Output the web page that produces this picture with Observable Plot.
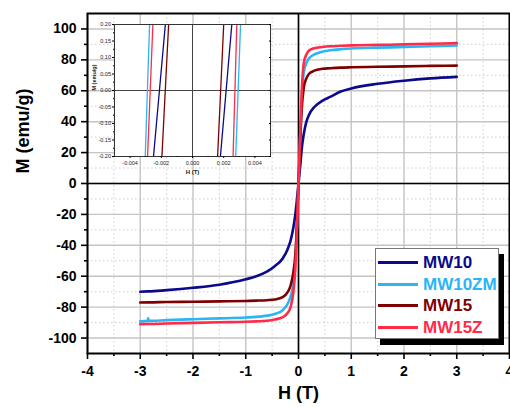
<!DOCTYPE html>
<html>
<head>
<meta charset="utf-8">
<script src="https://cdn.jsdelivr.net/npm/d3@7"></script>
<script src="https://cdn.jsdelivr.net/npm/@observablehq/plot@0.6"></script>
<style>
  html, body { margin: 0; padding: 0; background: white; }
  #wrap { position: relative; width: 510px; height: 407px; overflow: hidden; font-family: "Liberation Sans", Arial, sans-serif; }
  #inset { position: absolute; left: 88px; top: 18px; }
  #legend { position: absolute; left: 375px; top: 248px; width: 124px; height: 91px; background: white;
            border: 1px solid #777; box-shadow: 5px 6px 0 #000; padding-top: 3px; box-sizing: border-box; }
  .lrow { height: 21.6px; display: flex; align-items: center; }
  .lsw { width: 40px; height: 3px; margin-left: 2px; margin-right: 5px; }
  .ltx { font-weight: bold; font-size: 17px; line-height: 17px; }
</style>
</head>
<body>
<div id="wrap"></div>
<script>
// ---- data ----
const seriesNames = ["MW10", "MW10ZM", "MW15", "MW15Z"];
const seriesColors = ["#0a0a8a", "#2bb5f5", "#7f0000", "#ff2b48"];

const hField = [-3, -2.86, -2.85, -2.84, -2.5, -2, -1.5, -1, -0.8, -0.6, -0.45, -0.3, -0.2, -0.15, -0.1, -0.06, -0.04, -0.02,
                0, 0.02, 0.04, 0.06, 0.1, 0.15, 0.2, 0.3, 0.45, 0.6, 0.8, 1, 1.5, 2, 2.5, 3];
const mw10   = [-70, -69.8, -69.8, -69.8, -69, -67.5, -65.5, -62, -60, -57, -53.5, -48.5, -42, -37, -29, -20, -14, -7,
                0, 7, 14, 22, 32, 40, 44.5, 49.5, 53.5, 56, 59.5, 61.5, 64.5, 66.5, 68, 69];
const mw10zm = [-89.2, -88.9, -87.2, -88.9, -88.4, -87.8, -87.3, -86.7, -86.3, -85.5, -84.5, -82, -77.5, -73, -65, -50, -38, -20,
                0, 20, 38, 54, 72, 78, 81, 83.5, 85.3, 86.2, 86.9, 87.4, 87.9, 88.3, 88.8, 89.3];
const mw15   = [-77, -76.9, -76.9, -76.9, -76.7, -76.5, -76.3, -76, -75.8, -75.5, -75, -73.5, -70, -66, -58, -46, -34, -17,
                0, 17, 34, 48, 62, 68, 71, 73, 74.2, 74.6, 75, 75.2, 75.5, 75.8, 76.1, 76.3];
const mw15z  = [-91, -90.9, -90.9, -90.9, -90.6, -90.2, -89.8, -89.5, -89.2, -88.8, -88, -86.5, -83.5, -80, -71, -55, -40, -20,
                0, 20, 40, 58, 78, 83.5, 86, 87.5, 88.3, 88.8, 89.1, 89.4, 89.7, 90, 90.4, 90.8];

const xTicks = [-4, -3, -2, -1, 0, 1, 2, 3, 4];
const xMinor = [-3.5, -2.5, -1.5, -0.5, 0.5, 1.5, 2.5, 3.5];
const yTicks = [-100, -80, -60, -40, -20, 0, 20, 40, 60, 80, 100];
const yMinor = [-110, -90, -70, -50, -30, -10, 10, 30, 50, 70, 90, 110];

// inset (zoom on coercive field), H values where each branch crosses M = -0.2 and M = +0.2
const insetMLow = -0.2, insetMHigh = 0.2;
const leftBranchLow   = [-0.0025, -0.00303, -0.00196, -0.00288];
const leftBranchHigh  = [-0.00174, -0.00275, -0.00153, -0.00254];
const rightBranchLow  = [0.00179, 0.00277, 0.00161, 0.0026];
const rightBranchHigh = [0.00252, 0.00308, 0.0020, 0.00284];
const insetXTicks = [-0.004, -0.002, 0, 0.002, 0.004];
const insetXMinor = [-0.005, -0.003, -0.001, 0.001, 0.003, 0.005];
const insetYTicks = [-0.2, -0.15, -0.1, -0.05, 0, 0.05, 0.1, 0.15, 0.2];
const insetYMinor = [-0.175, -0.125, -0.075, -0.025, 0.025, 0.075, 0.125, 0.175];

// ---- build ----
const allM = [mw10, mw10zm, mw15, mw15z];
const rows = [];
seriesNames.forEach((s, k) => hField.forEach((h, i) => rows.push({series: s, h, m: allM[k][i]})));

const FONT = "Liberation Sans, Arial, sans-serif";
const main = Plot.plot({
  width: 510, height: 407,
  marginLeft: 87, marginRight: 1, marginTop: 13, marginBottom: 54,
  x: {domain: [-4, 4]},
  y: {domain: [-110, 110]},
  color: {domain: seriesNames, range: seriesColors},
  style: {fontFamily: FONT, background: "white", overflow: "visible"},
  marks: [
    Plot.ruleX(xMinor, {stroke: "#cfcfcf", strokeWidth: 1, strokeDasharray: "1.5,2.5"}),
    Plot.ruleY(yMinor, {stroke: "#cfcfcf", strokeWidth: 1, strokeDasharray: "1.5,2.5"}),
    Plot.ruleX(xTicks, {stroke: "#c4c4c4", strokeWidth: 1.4}),
    Plot.ruleY(yTicks, {stroke: "#c4c4c4", strokeWidth: 1.4}),
    Plot.ruleX([0], {stroke: "black", strokeWidth: 1.6}),
    Plot.ruleY([0], {stroke: "black", strokeWidth: 1.6}),
    Plot.line(rows, {x: "h", y: "m", z: "series", stroke: "series", strokeWidth: 2.6, curve: "monotone-x"}),
    Plot.frame({stroke: "black", strokeWidth: 2}),
    Plot.axisX(xTicks, {tickSize: 6, tickPadding: 7, strokeWidth: 1.6, fontSize: 14, fontWeight: "bold", fill: "black", label: null, tickFormat: d => String(d).replace("−", "-")}),
    Plot.axisX(xMinor, {tickSize: 3, strokeWidth: 1.6, tickFormat: () => "", label: null}),
    Plot.axisY(yTicks, {tickSize: 6, tickPadding: 5, strokeWidth: 1.6, fontSize: 14, fontWeight: "bold", fill: "black", label: null, tickFormat: d => String(d)}),
    Plot.axisY(yMinor.filter(v => Math.abs(v) < 110), {tickSize: 3, strokeWidth: 1.6, tickFormat: () => "", label: null}),
    Plot.text(["H (T)"], {frameAnchor: "bottom", dy: 45, text: d => d, fontSize: 18, fontWeight: "bold", fill: "black"}),
    Plot.text(["M (emu/g)"], {frameAnchor: "left", dx: -64, dy: -10, rotate: -90, text: d => d, fontSize: 18, fontWeight: "bold", fill: "black"})
  ]
});

const insetRows = [];
seriesNames.forEach((s, k) => {
  insetRows.push({series: s, h1: leftBranchLow[k], h2: leftBranchHigh[k]});
  insetRows.push({series: s, h1: rightBranchLow[k], h2: rightBranchHigh[k]});
});

const inset = Plot.plot({
  width: 190, height: 168,
  marginLeft: 26, marginRight: 8, marginTop: 6, marginBottom: 30,
  x: {domain: [-0.005, 0.005]},
  y: {domain: [-0.2, 0.2]},
  color: {domain: seriesNames, range: seriesColors},
  style: {fontFamily: FONT, background: "transparent", overflow: "visible"},
  marks: [
    Plot.frame({fill: "white", stroke: "none"}),
    Plot.ruleX([0], {stroke: "#444", strokeWidth: 1}),
    Plot.ruleY([0], {stroke: "#444", strokeWidth: 1}),
    Plot.link(insetRows, {x1: "h1", x2: "h2", y1: () => insetMLow, y2: () => insetMHigh, stroke: "series", strokeWidth: 1.3}),
    Plot.frame({stroke: "#333", strokeWidth: 1}),
    Plot.axisX(insetXTicks, {tickSize: 2, tickPadding: 2.5, fontSize: 5.5, fill: "#222", label: null, tickFormat: d => d3.format(".3f")(d).replace("−", "-")}),
    Plot.axisX(insetXMinor, {tickSize: 1, tickFormat: () => "", label: null}),
    Plot.axisY(insetYTicks, {tickSize: 2, tickPadding: 1.5, fontSize: 5.5, fill: "#222", label: null, tickFormat: d => d3.format(".2f")(d).replace("−", "-")}),
    Plot.axisY(insetYMinor, {tickSize: 1, tickFormat: () => "", label: null}),
    Plot.axisY(insetYTicks, {anchor: "right", tickSize: -2, tickFormat: () => "", label: null}),
    Plot.text(["H (T)"], {frameAnchor: "bottom", dy: 17, text: d => d, fontSize: 6, fontWeight: "bold", fill: "#222"}),
    Plot.text(["M (emu/g)"], {frameAnchor: "left", dx: -20, rotate: -90, text: d => d, fontSize: 5.5, fontWeight: "bold", fill: "#222"})
  ]
});
inset.id = "inset";

const wrap = document.getElementById("wrap");
wrap.appendChild(main);
wrap.appendChild(inset);

const legend = document.createElement("div");
legend.id = "legend";
seriesNames.forEach((s, k) => {
  const r = document.createElement("div");
  r.className = "lrow";
  r.innerHTML = `<div class="lsw" style="background:${seriesColors[k]}"></div><div class="ltx" style="color:${seriesColors[k]}">${s}</div>`;
  legend.appendChild(r);
});
wrap.appendChild(legend);
</script>
</body>
</html>
